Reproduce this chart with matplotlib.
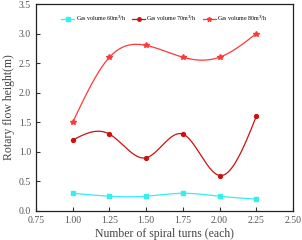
import numpy as np
import matplotlib
matplotlib.use("Agg")
from matplotlib import pyplot as plt

turns = [1.00, 1.25, 1.50, 1.75, 2.00, 2.25]
gas60 = [0.30, 0.25, 0.25, 0.30, 0.25, 0.20]
gas70 = [1.20, 1.30, 0.90, 1.30, 0.60, 1.60]
gas80 = [1.50, 2.60, 2.80, 2.60, 2.60, 3.00]
labels = ["Gas volume 60m$^3$/h", "Gas volume 70m$^3$/h", "Gas volume 80m$^3$/h"]


def spline(x, y, n=200):
    # natural cubic spline, just for the smooth line look
    x = np.asarray(x, float)
    y = np.asarray(y, float)
    k = len(x)
    h = np.diff(x)
    A = np.zeros((k, k))
    b = np.zeros(k)
    A[0, 0] = A[-1, -1] = 1
    for i in range(1, k - 1):
        A[i, i - 1] = h[i - 1]
        A[i, i] = 2 * (h[i - 1] + h[i])
        A[i, i + 1] = h[i]
        b[i] = 6 * ((y[i + 1] - y[i]) / h[i] - (y[i] - y[i - 1]) / h[i - 1])
    M = np.linalg.solve(A, b)
    xs = np.linspace(x[0], x[-1], n)
    idx = np.clip(np.searchsorted(x, xs) - 1, 0, k - 2)
    x0, x1 = x[idx], x[idx + 1]
    hh = x1 - x0
    t0, t1 = x1 - xs, xs - x0
    ys = (M[idx] * t0 ** 3 + M[idx + 1] * t1 ** 3) / (6 * hh) \
        + (y[idx] / hh - M[idx] * hh / 6) * t0 + (y[idx + 1] / hh - M[idx + 1] * hh / 6) * t1
    return xs, ys


plt.rcParams['font.family'] = ['Liberation Serif', 'DejaVu Serif']
fig = plt.figure(figsize=(3.02, 2.40), dpi=100)
ax = fig.add_axes([36 / 302, 1 - 211 / 240, 257 / 302, 207 / 240])

series = [(gas60, "#33f0f0", "s"), (gas70, "#cc1111", "o"), (gas80, "#ff3838", "*")]

for (vals, col, mk), lab in zip(series, labels):
    xs, ys = spline(turns, vals)
    ax.plot(xs, ys, color=col, lw=0.9)
    ax.plot(turns, vals, ls="none", marker=mk, color=col, ms=2.8 if mk != "*" else 4)
    ax.plot([], [], color=col, lw=0.9, marker=mk, ms=2.5 if mk != "*" else 3.5, label=lab)

ax.set_xlim(0.75, 2.5)
ax.set_ylim(0, 3.5)
ax.set_xticks([0.75, 1.00, 1.25, 1.50, 1.75, 2.00, 2.25, 2.50])
ax.set_xticklabels(["0.75", "1.00", "1.25", "1.50", "1.75", "2.00", "2.25", "2.50"])
ax.set_yticks([0.0, 0.5, 1.0, 1.5, 2.0, 2.5, 3.0, 3.5])
ax.tick_params(direction="in", length=3, width=0.8, labelsize=7, colors="#333333", labelcolor="#555555")
for s in ax.spines.values():
    s.set_linewidth(0.9)
    s.set_color("#222222")
ax.set_xlabel("Number of spiral turns (each)", fontsize=8.5, color="#444444", labelpad=2)
ax.set_ylabel("Rotary flow height(m)", fontsize=8.5, color="#444444", labelpad=3)
ax.legend(loc="upper center", ncol=3, frameon=False, fontsize=4.3, handlelength=2.2,
          handletextpad=0.2, columnspacing=1.0, bbox_to_anchor=(0.5, 0.98))

fig.savefig("out.png", dpi=100)
